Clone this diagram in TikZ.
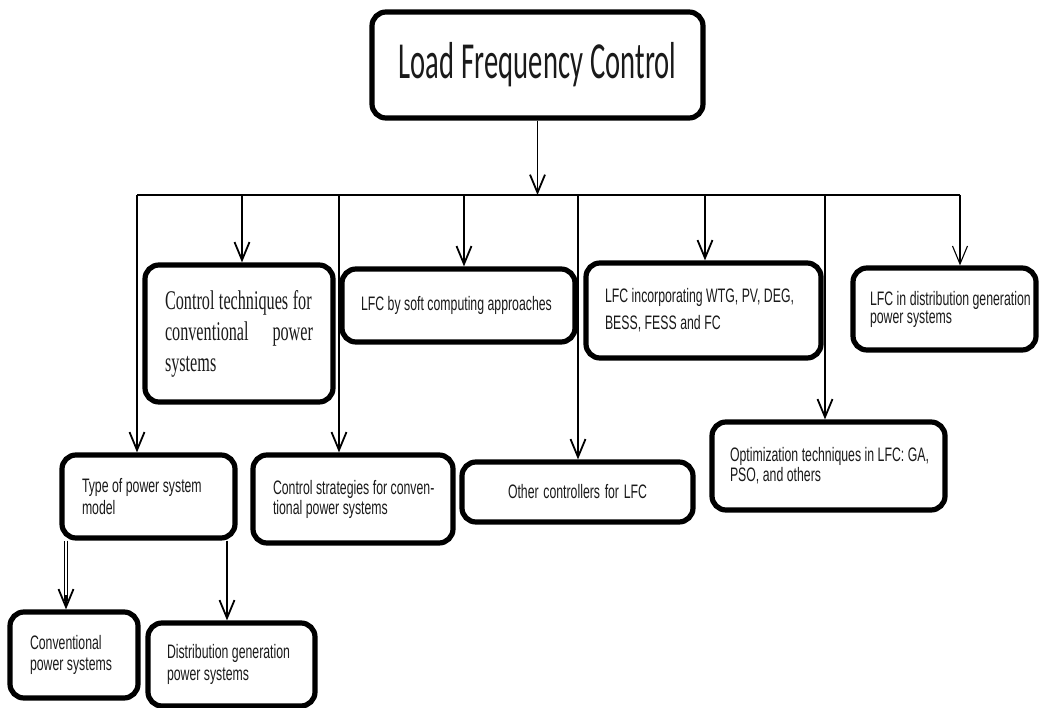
\documentclass[tikz,border=0pt]{standalone}
\usepackage{fontspec}
\usetikzlibrary{arrows.meta,calc}
% condensed faces used for the box texts
\newfontfamily\calibn[FakeStretch=0.55]{Carlito}
\newfontfamily\arialn[FakeStretch=0.63]{Liberation Sans}
\newfontfamily\timesn[FakeStretch=0.6]{Liberation Serif}
\definecolor{ink}{HTML}{1A1A1A}
% left-padded, ragged-right block of lines inside a box; optional arg = word gap
\newcommand\padtext[4][3.5pt plus 1pt minus 0.5pt]{\hspace*{#2}\parbox{#3}{\raggedright
  \hyphenpenalty=10000 \exhyphenpenalty=10000 \spaceskip=#1\relax #4}}
\begin{document}
\begin{tikzpicture}[x=1pt,y=-1pt,
  box/.style 2 args={draw, line width=5.2pt, rounded corners=14pt, inner sep=0pt,
    minimum width=#1, text width=#1, minimum height=#2, align=left, text=ink},
  sans/.style={font=\arialn\fontsize{19.5}{#1}\selectfont},
  sans/.default=21,
  link/.style={line width=1.8pt},
  tip/.style={-{Straight Barb[length=18pt,width=15pt]}},
]
\useasboundingbox (0,0) rectangle (1043,708);

% boxes
\node[box={331}{106}, align=center, font=\calibn\fontsize{52}{60}\selectfont] (title) at (537.5,65)
  {\spaceskip=7pt plus 2pt minus 1pt\relax Load Frequency Control};

\node[box={188}{137}, font=\timesn\fontsize{27}{31}\selectfont] (ctech) at (239,333.5)
  {\padtext[4.5pt plus 2pt minus 1pt]{20pt}{164pt}{Control techniques for\\ \makebox[148pt][s]{conventional power}\\ systems}};
\node[box={233}{73}, sans] (soft) at (458.5,305.5)
  {\padtext{19pt}{210pt}{LFC by soft computing approaches}};
\node[box={235}{95}, sans=27] (incorp) at (703.5,310.5)
  {\padtext{19pt}{212pt}{LFC incorporating WTG, PV, DEG,\\ BESS, FESS and FC}};
\node[box={183}{82}, sans=18] (dlfc) at (944.5,309)
  {\padtext{17pt}{164pt}{LFC in distribution generation\\ power systems}};

\node[box={173}{83}, sans=22] (type) at (148.5,496.5)
  {\padtext{20pt}{150pt}{Type of power system\\ model}};
\node[box={200}{88}, sans=20] (strat) at (353,499)
  {\padtext{20pt}{178pt}{Control strategies for conven-\\ tional power systems}};
\node[box={231}{60}, sans, align=center] (other) at (577.5,492)
  {\spaceskip=3.5pt plus 1pt minus 0.5pt\relax Other controllers for LFC};
\node[box={233}{88}, sans=20] (optim) at (828.5,466)
  {\padtext{18pt}{212pt}{Optimization techniques in LFC: GA,\\ PSO, and others}};

\node[box={128}{86}, sans=21] (conv) at (74,655)
  {\padtext{20pt}{106pt}{Conventional\\ power systems}};
\node[box={167}{83}, sans=22] (dgen) at (231.5,664.5)
  {\padtext{19pt}{146pt}{Distribution generation\\ power systems}};

% distribution bus
\coordinate (busL) at (137,195);
\coordinate (busR) at (960,195);
\draw[link] (busL) -- (busR);
\draw[link,tip] (title.south) -- (title.south |- busL);

\coordinate (d1) at (137,195);
\coordinate (d2) at (242,195);
\coordinate (d3) at (339,195);
\coordinate (d4) at (464,195);
\coordinate (d5) at (578,195);
\coordinate (d6) at (705,195);
\coordinate (d7) at (825,195);
\coordinate (d8) at (960,195);

\draw[link,tip] (d1) -- (d1 |- type.north);
\draw[link,tip] (d2) -- (d2 |- ctech.north);
\draw[link,tip] (d3) -- (d3 |- strat.north);
\draw[link,tip] (d4) -- (d4 |- soft.north);
\draw[link,tip] (d5) -- (d5 |- other.north);
\draw[link,tip] (d6) -- (d6 |- incorp.north);
\draw[link,tip] (d7) -- (d7 |- optim.north);
\draw[line width=1.1pt,tip] (d8) -- (d8 |- dlfc.north);

% branches of the model type
\coordinate (t1) at (66,0);
\coordinate (t2) at (227,0);
\draw[line width=1.1pt, double distance=2.2pt] (t1 |- type.south) -- ($(conv.north -| t1)+(0,-8)$);
\draw[link,tip] ($(conv.north -| t1)+(0,-14)$) -- (conv.north -| t1);
\draw[link,tip] (t2 |- type.south) -- (t2 |- dgen.north);
\end{tikzpicture}
\end{document}
